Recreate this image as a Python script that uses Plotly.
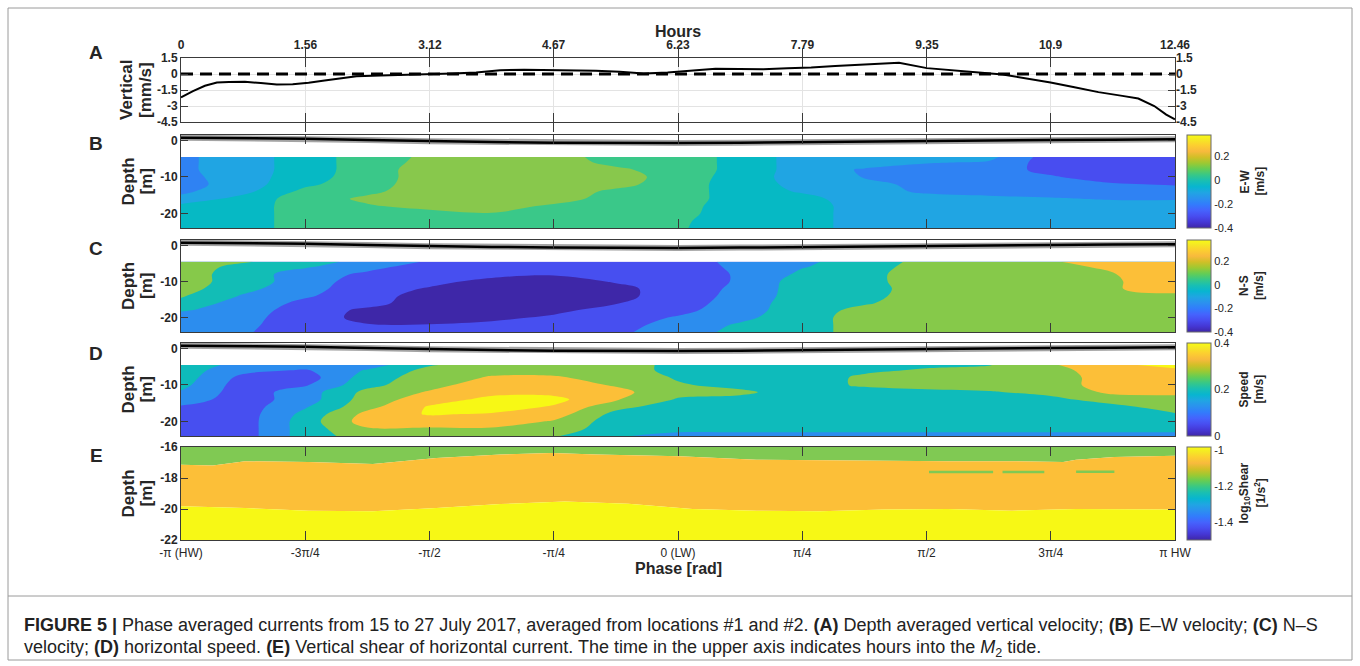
import numpy as np
import plotly.graph_objects as go

W, H = 1360, 666
PI = np.pi
FONT = "Liberation Sans, Arial, sans-serif"
INK = "#262626"

# ---------------- Panel A: depth-averaged vertical velocity ----------------
hours = [0, 0.15, 0.3, 0.45, 0.6, 0.8, 1.0, 1.2, 1.4, 1.6, 1.8, 2.0, 2.2, 2.5, 2.8,
         3.1, 3.4, 3.7, 4.0, 4.3, 4.6, 4.9, 5.2, 5.5, 5.8, 6.1, 6.4, 6.7, 7.0, 7.3,
         7.6, 7.9, 8.2, 8.5, 8.8, 9.0, 9.35, 9.7, 10.0, 10.3, 10.6, 10.9, 11.2, 11.5,
         11.8, 12.0, 12.2, 12.35, 12.46]
vertical_vel = [-2.2, -1.6, -1.1, -0.8, -0.75, -0.72, -0.85, -0.98, -0.95, -0.82, -0.6,
                -0.4, -0.22, -0.15, -0.1, -0.02, 0.05, 0.15, 0.35, 0.4, 0.38, 0.3, 0.3,
                0.2, 0.05, 0.15, 0.3, 0.5, 0.48, 0.45, 0.55, 0.6, 0.75, 0.85, 0.95, 1.05,
                0.55, 0.3, 0.15, -0.05, -0.4, -0.8, -1.25, -1.7, -2.05, -2.3, -3.0, -3.8,
                -4.25]
hour_ticks = [0, 1.56, 3.12, 4.67, 6.23, 7.79, 9.35, 10.9, 12.46]
hour_labels = ["0", "1.56", "3.12", "4.67", "6.23", "7.79", "9.35", "10.9", "12.46"]
vert_ticks = [1.5, 0, -1.5, -3, -4.5]
vert_labels = ["1.5", "0", "-1.5", "-3", "-4.5"]

# ---------------- phase axis ----------------
phase_tick_frac = [-1, -0.75, -0.5, -0.25, 0, 0.25, 0.5, 0.75, 1]
phase_labels = ["-π (HW)", "-3π/4", "-π/2", "-π/4", "0 (LW)", "π/4", "π/2", "3π/4", "π HW"]

# grid of the contour panels (phase in units of pi, depth in m)
grid_phase_frac = [-1, -0.875, -0.75, -0.625, -0.5, -0.375, -0.25, -0.125, 0,
                   0.125, 0.25, 0.375, 0.5, 0.625, 0.75, 0.875, 1]
grid_depth = [-4.5, -6, -8, -10, -12, -14, -16, -18, -20, -22, -24]

# free-surface elevation line drawn in B-D
surf_phase_frac = grid_phase_frac
surf_elev = [0.77, 0.68, 0.49, 0.13, -0.24, -0.42, -0.6, -0.69, -0.69, -0.6, -0.42,
             -0.24, -0.15, 0.04, 0.13, 0.22, 0.31]

# ---------------- Panel B: E-W velocity (m/s) ----------------
ew_vel = [
    [-0.17, -0.1, 0, 0.1, 0.17, 0.2, 0.2, 0.1, 0.1, 0.02, -0.1, -0.1, -0.1, -0.12, -0.3, -0.3, -0.3],
    [-0.17, -0.1, 0, 0.1, 0.18, 0.2, 0.2, 0.12, 0.1, 0.02, -0.1, -0.1, -0.14, -0.16, -0.3, -0.3, -0.3],
    [-0.17, -0.1, 0, 0.1, 0.2, 0.2, 0.2, 0.17, 0.1, 0.02, -0.1, -0.16, -0.2, -0.2, -0.28, -0.3, -0.3],
    [-0.18, -0.1, 0.01, 0.1, 0.2, 0.2, 0.2, 0.2, 0.1, 0.01, -0.1, -0.155, -0.2, -0.2, -0.24, -0.3, -0.3],
    [-0.19, -0.1, 0.03, 0.11, 0.2, 0.2, 0.2, 0.18, 0.1, 0, -0.08, -0.1, -0.2, -0.2, -0.2, -0.24, -0.26],
    [-0.17, -0.08, 0.08, 0.13, 0.2, 0.2, 0.2, 0.13, 0.1, 0, -0.06, -0.1, -0.17, -0.19, -0.2, -0.2, -0.2],
    [-0.12, -0.01, 0.1, 0.17, 0.2, 0.2, 0.2, 0.1, 0.1, 0, -0.02, -0.1, -0.1, -0.12, -0.14, -0.16, -0.16],
    [-0.02, 0, 0.1, 0.14, 0.18, 0.2, 0.13, 0.1, 0.085, 0, 0, -0.1, -0.1, -0.1, -0.1, -0.1, -0.1],
    [0, 0, 0.1, 0.1, 0.12, 0.145, 0.1, 0.1, 0.078, 0, 0, -0.1, -0.1, -0.1, -0.1, -0.1, -0.1],
    [0, 0, 0.1, 0.1, 0.1, 0.1, 0.1, 0.1, 0.065, 0, 0, -0.1, -0.1, -0.1, -0.1, -0.1, -0.1],
    [0, 0, 0.1, 0.1, 0.1, 0.1, 0.1, 0.1, 0.06, 0, 0, -0.1, -0.1, -0.1, -0.1, -0.1, -0.1],
]
ew_colors = ["#484DF0", "#2F82F3", "#20A5E3", "#06B9C4", "#3AC889", "#88C84C"]

# ---------------- Panel C: N-S velocity (m/s) ----------------
ns_vel = [
    [0.1, 0.06, 0, -0.09, -0.16, -0.2, -0.2, -0.2, -0.2, -0.12, -0.07, 0, 0.08, 0.1, 0.14, 0.2, 0.2],
    [0.1, 0.02, -0.04, -0.12, -0.2, -0.2, -0.2, -0.2, -0.2, -0.13, -0.055, 0, 0.1, 0.1, 0.1, 0.18, 0.2],
    [0.1, 0, -0.1, -0.17, -0.2, -0.22, -0.24, -0.2, -0.2, -0.14, -0.03, 0.02, 0.1, 0.1, 0.1, 0.145, 0.2],
    [0.1, 0, -0.1, -0.2, -0.22, -0.28, -0.3, -0.24, -0.2, -0.14, 0, 0.02, 0.1, 0.1, 0.1, 0.14, 0.2],
    [0.09, -0.02, -0.12, -0.2, -0.26, -0.3, -0.3, -0.28, -0.2, -0.13, 0, 0.01, 0.1, 0.1, 0.1, 0.14, 0.2],
    [0.06, -0.06, -0.14, -0.2, -0.3, -0.3, -0.3, -0.28, -0.2, -0.12, 0, 0.02, 0.1, 0.1, 0.1, 0.1, 0.12],
    [0.02, -0.1, -0.17, -0.22, -0.3, -0.3, -0.3, -0.255, -0.2, -0.1, 0, 0.04, 0.1, 0.1, 0.1, 0.1, 0.1],
    [-0.04, -0.1, -0.2, -0.27, -0.3, -0.3, -0.28, -0.2, -0.18, -0.09, 0, 0.08, 0.1, 0.1, 0.1, 0.1, 0.1],
    [-0.1, -0.12, -0.2, -0.28, -0.3, -0.28, -0.23, -0.2, -0.14, -0.07, 0, 0.1, 0.1, 0.1, 0.1, 0.1, 0.1],
    [-0.1, -0.13, -0.2, -0.245, -0.245, -0.22, -0.2, -0.2, -0.1, -0.04, 0, 0.1, 0.1, 0.1, 0.1, 0.1, 0.1],
    [-0.1, -0.14, -0.2, -0.2, -0.2, -0.2, -0.2, -0.17, -0.1, -0.02, 0, 0.1, 0.1, 0.1, 0.1, 0.1, 0.08],
]
ns_colors = ["#3E27A8", "#474FF0", "#2C8DEE", "#12BDB6", "#86C94A", "#FCBF38"]

# ---------------- Panel D: horizontal speed (m/s) ----------------
speed = [
    [0.17, 0.1, 0.1, 0.1, 0.17, 0.2, 0.2, 0.2, 0.16, 0.15, 0.16, 0.165, 0.17, 0.172, 0.22, 0.26, 0.3],
    [0.15, 0.09, 0.07, 0.13, 0.19, 0.21, 0.21, 0.2, 0.16, 0.15, 0.16, 0.17, 0.178, 0.19, 0.21, 0.25, 0.26],
    [0.15, 0.06, 0.05, 0.15, 0.2, 0.23, 0.23, 0.21, 0.17, 0.15, 0.16, 0.18, 0.19, 0.2, 0.2, 0.25, 0.25],
    [0.14, 0.05, 0.07, 0.16, 0.21, 0.25, 0.25, 0.22, 0.18, 0.16, 0.16, 0.18, 0.19, 0.2, 0.2, 0.25, 0.25],
    [0.12, 0.05, 0.1, 0.19, 0.23, 0.26, 0.26, 0.24, 0.19, 0.185, 0.15, 0.16, 0.165, 0.17, 0.19, 0.235, 0.235],
    [0.1, 0.05, 0.1, 0.2, 0.25, 0.29, 0.29, 0.23, 0.17, 0.16, 0.15, 0.15, 0.15, 0.15, 0.16, 0.2, 0.21],
    [0.07, 0.05, 0.12, 0.21, 0.28, 0.3, 0.27, 0.19, 0.15, 0.15, 0.15, 0.15, 0.15, 0.15, 0.15, 0.16, 0.2],
    [0.05, 0.05, 0.14, 0.24, 0.28, 0.27, 0.25, 0.16, 0.15, 0.15, 0.15, 0.15, 0.15, 0.15, 0.15, 0.15, 0.17],
    [0.05, 0.05, 0.15, 0.25, 0.25, 0.25, 0.22, 0.15, 0.15, 0.15, 0.15, 0.15, 0.15, 0.15, 0.15, 0.15, 0.15],
    [0.05, 0.05, 0.15, 0.22, 0.22, 0.22, 0.2, 0.15, 0.14, 0.14, 0.14, 0.14, 0.14, 0.14, 0.14, 0.14, 0.14],
    [0.05, 0.05, 0.15, 0.2, 0.2, 0.2, 0.18, 0.13, 0.11, 0.11, 0.11, 0.11, 0.11, 0.11, 0.11, 0.11, 0.11],
]
speed_colors = ["#474FF0", "#2C8DEE", "#0EBBBB", "#86C94A", "#FCBF38", "#F7F815"]

# ---------------- Panel E: log10 shear layers ----------------
e_top, e_bottom = -16, -22
e_go_phase_frac = [-1, -0.936, -0.871, -0.743, -0.614, -0.486, -0.357, -0.254, -0.164,
                   0.003, 0.158, 0.286, 0.415, 0.543, 0.672, 0.775, 0.801, 0.878, 1]
e_go_depth = [-17.14, -17.2, -16.92, -16.97, -17.1, -16.71, -16.49, -16.39, -16.49,
              -16.6, -16.82, -16.86, -16.88, -16.92, -16.92, -16.97, -16.82, -16.64, -16.56]
e_oy_phase_frac = [-1, -0.871, -0.743, -0.614, -0.486, -0.357, -0.228, -0.1, 0.029,
                   0.158, 0.286, 0.415, 0.543, 0.672, 0.801, 1]
e_oy_depth = [-19.83, -19.94, -20.11, -20.15, -19.94, -19.68, -19.51, -19.66, -20.0,
              -20.11, -20.15, -20.04, -20.0, -20.11, -20.0, -20.04]
e_streak_start = [0.505, 0.653, 0.801]
e_streak_end = [0.634, 0.737, 0.878]
e_streak_depth = [-17.62, -17.62, -17.6]
shear_colors = ["#80C953", "#FCBF38", "#F7F815"]

# ---------------- colour bars ----------------
parula = [[0.0, "#3E26A8"], [0.0635, "#4537D5"], [0.127, "#484DF0"], [0.19, "#4563FD"],
          [0.254, "#327CFC"], [0.317, "#2B91EF"], [0.381, "#20A5E3"], [0.444, "#08B5D0"],
          [0.508, "#19BFB2"], [0.571, "#37C887"], [0.635, "#64CD55"], [0.698, "#9DC932"],
          [0.762, "#D1BF27"], [0.825, "#F8BA3D"], [0.889, "#FCCF30"], [0.952, "#F5E924"],
          [1.0, "#F9FB14"]]
cbar_ranges = [(-0.4, 0.38), (-0.4, 0.38), (0.0, 0.4), (-1.5, -0.985)]
cbar_ticks = [[-0.4, -0.2, 0, 0.2], [-0.4, -0.2, 0, 0.2], [0, 0.2, 0.4], [-1.4, -1.2, -1]]
cbar_labels = [["-0.4", "-0.2", "0", "0.2"], ["-0.4", "-0.2", "0", "0.2"],
               ["0", "0.2", "0.4"], ["-1.4", "-1.2", "-1"]]

# ---------------- layout geometry (pixels) ----------------
X0, X1 = 181, 1175
panel_px = {"A": (58, 122), "B": (135, 228), "C": (240, 332), "D": (343, 436), "E": (447, 540)}


def px(x):
    return x / W


def py(y):
    return 1 - y / H


def band_scale(colors):
    n = len(colors)
    scale = []
    for k, c in enumerate(colors):
        lo = max(0.0, (k - 0.5) / (n - 1))
        hi = min(1.0, (k + 0.5) / (n - 1) - 1e-6) if k < n - 1 else 1.0
        scale.append([lo, c])
        scale.append([hi, c])
    return scale


fig = go.Figure()
gphase = [f * PI for f in grid_phase_frac]

# Panel A traces
fig.add_trace(go.Scatter(x=[hour_ticks[0], hour_ticks[-1]], y=[0, 0], mode="lines",
                         line=dict(color="black", width=3, dash="12px,7px"),
                         xaxis="x", yaxis="y", hoverinfo="skip"))
fig.add_trace(go.Scatter(x=hours, y=vertical_vel, mode="lines",
                         line=dict(color="black", width=2), xaxis="x", yaxis="y"))
fig.add_trace(go.Scatter(x=[0], y=[99], mode="markers", marker=dict(size=1, opacity=0),
                         xaxis="x", yaxis="y6", hoverinfo="skip"))

# Contour panels B, C, D
for k, (z, cols, start, size) in enumerate([
        (ew_vel, ew_colors, -0.25, 0.1),
        (ns_vel, ns_colors, -0.25, 0.1),
        (speed, speed_colors, 0.075, 0.05)]):
    ax = str(k + 2)
    nlev = len(cols) - 1
    fig.add_trace(go.Contour(
        x=gphase, y=grid_depth, z=z, autocontour=False,
        contours=dict(start=start, end=start + (nlev - 1) * size, size=size,
                      coloring="fill", showlines=False),
        line=dict(width=0), colorscale=band_scale(cols), showscale=False,
        xaxis="x" + ax, yaxis="y" + ax, hoverinfo="skip"))
    sx = [f * PI for f in surf_phase_frac]
    fig.add_trace(go.Scatter(x=sx, y=surf_elev, mode="lines",
                             line=dict(color="rgba(90,90,90,0.55)", width=6),
                             xaxis="x" + ax, yaxis="y" + ax, hoverinfo="skip"))
    fig.add_trace(go.Scatter(x=sx, y=surf_elev, mode="lines",
                             line=dict(color="black", width=2.5),
                             xaxis="x" + ax, yaxis="y" + ax, hoverinfo="skip"))

# Panel E layers
fig.add_trace(go.Scatter(x=[-PI, PI], y=[e_top, e_top], mode="lines", line=dict(width=0),
                         xaxis="x5", yaxis="y5", hoverinfo="skip"))
fig.add_trace(go.Scatter(x=[f * PI for f in e_go_phase_frac], y=e_go_depth, mode="lines",
                         line=dict(width=0), fill="tonexty", fillcolor=shear_colors[0],
                         xaxis="x5", yaxis="y5", hoverinfo="skip"))
fig.add_trace(go.Scatter(x=[f * PI for f in e_oy_phase_frac], y=e_oy_depth, mode="lines",
                         line=dict(width=0), fill="tonexty", fillcolor=shear_colors[1],
                         xaxis="x5", yaxis="y5", hoverinfo="skip"))
fig.add_trace(go.Scatter(x=[-PI, PI], y=[e_bottom, e_bottom], mode="lines",
                         line=dict(width=0), fill="tonexty", fillcolor=shear_colors[2],
                         xaxis="x5", yaxis="y5", hoverinfo="skip"))
for s0, s1, d in zip(e_streak_start, e_streak_end, e_streak_depth):
    fig.add_trace(go.Scatter(x=[s0 * PI, s1 * PI], y=[d, d], mode="lines",
                             line=dict(color=shear_colors[0], width=2.5),
                             xaxis="x5", yaxis="y5", hoverinfo="skip"))

# colour bars
for k, key in enumerate(["B", "C", "D", "E"]):
    ax = str(k + 2)
    t, b = panel_px[key]
    cmin, cmax = cbar_ranges[k]
    fig.add_trace(go.Scatter(
        x=[0], y=[99], mode="markers", xaxis="x" + ax, yaxis="y" + ax, hoverinfo="skip",
        marker=dict(size=1, opacity=0, color=[cmin], cmin=cmin, cmax=cmax,
                    colorscale=parula, showscale=True,
                    colorbar=dict(x=px(1187), xanchor="left", xpad=0, ypad=0,
                                  y=py((t + b) / 2), yanchor="middle",
                                  len=(b - t) / H, lenmode="fraction",
                                  thickness=24, thicknessmode="pixels",
                                  outlinewidth=1, outlinecolor="#6a6a6a",
                                  tickvals=cbar_ticks[k], ticktext=cbar_labels[k],
                                  ticks="", tickfont=dict(size=11, color=INK, family=FONT)))))

layout = dict(width=W, height=H, autosize=False,
              margin=dict(l=0, r=0, t=0, b=0, pad=0, autoexpand=False), showlegend=False,
              paper_bgcolor="white", plot_bgcolor="white",
              font=dict(family=FONT, color=INK))

xdom = [px(X0), px(X1)]
axline = dict(showline=True, linecolor="#3a3a3a", linewidth=1, mirror="allticks",
              ticks="inside", tickcolor="#3a3a3a", zeroline=False, automargin=False)

# A axes
layout["xaxis"] = dict(domain=xdom, anchor="y", side="top", range=[0, 12.46],
                       tickvals=hour_ticks, ticktext=hour_labels, ticklen=9,
                       ticklabelstandoff=3,
                       showgrid=True, gridcolor="#e3e3e3",
                       tickfont=dict(size=12, weight="bold"), **axline)
t, b = panel_px["A"]
layout["yaxis"] = dict(domain=[py(b), py(t)], anchor="x", range=[-4.5, 1.5],
                       tickvals=vert_ticks, ticktext=vert_labels, ticklen=7,
                       showgrid=True, gridcolor="#e3e3e3",
                       tickfont=dict(size=12, weight="bold"), **axline)
layout["yaxis6"] = dict(overlaying="y", anchor="x", side="right", range=[-4.5, 1.5],
                        tickvals=vert_ticks, ticktext=vert_labels, ticks="",
                        showgrid=False, zeroline=False, showline=False, automargin=False,
                        tickfont=dict(size=12, weight="bold"))

for k, key in enumerate(["B", "C", "D", "E"]):
    ax = str(k + 2)
    t, b = panel_px[key]
    last = key == "E"
    layout["xaxis" + ax] = dict(domain=xdom, anchor="y" + ax, range=[-PI, PI],
                                tickvals=[f * PI for f in phase_tick_frac],
                                ticktext=phase_labels, showticklabels=last, ticklen=9,
                                ticklabelstandoff=2,
                                showgrid=False, tickfont=dict(size=12), **axline)
    if last:
        yr, yt = [-22, -16], [-16, -18, -20, -22]
    else:
        yr, yt = [-24, 1.5], [0, -10, -20]
    layout["yaxis" + ax] = dict(domain=[py(b), py(t)], anchor="x" + ax, range=yr,
                                tickvals=yt, ticktext=[str(v) for v in yt], ticklen=7,
                                showgrid=False, tickfont=dict(size=12, weight="bold"),
                                **axline)

ann = []


def text(x, y, s, size, bold=True, angle=0, xanchor="center", color=INK):
    ann.append(dict(x=px(x), y=py(y), xref="paper", yref="paper", text=s, showarrow=False,
                    textangle=angle, xanchor=xanchor, yanchor="middle",
                    font=dict(size=size, family=FONT, color=color,
                              weight="bold" if bold else "normal")))


text(678, 31, "Hours", 16)
text(678, 568, "Phase [rad]", 16)
for letter, yy in zip("ABCDE", [52, 143, 248, 353, 455]):
    text(96, yy, letter, 19)
text(127, 90, "Vertical", 17, angle=-90)
text(146, 90, "[mm/s]", 17, angle=-90)
for key in "BCDE":
    t, b = panel_px[key]
    text(128, (t + b) / 2, "Depth", 17, angle=-90)
    text(146, (t + b) / 2, "[m]", 17, angle=-90)
cb_titles = {"B": ("E-W", "[m/s]"), "C": ("N-S", "[m/s]"), "D": ("Speed", "[m/s]"),
             "E": ("log<sub>10</sub>Shear", "[1/s<sup>2</sup>]")}
for key, (l1, l2) in cb_titles.items():
    t, b = panel_px[key]
    text(1244, (t + b) / 2, l1, 12, angle=-90)
    text(1259, (t + b) / 2, l2, 12, angle=-90)

cap1 = ("<b>FIGURE 5 |</b> Phase averaged currents from 15 to 27 July 2017, averaged from "
        "locations #1 and #2. <b>(A)</b> Depth averaged vertical velocity; <b>(B)</b> E–W "
        "velocity; <b>(C)</b> N–S")
cap2 = ("velocity; <b>(D)</b> horizontal speed. <b>(E)</b> Vertical shear of horizontal "
        "current. The time in the upper axis indicates hours into the <i>M</i><sub>2</sub> tide.")
text(22, 625, cap1, 18, bold=False, xanchor="left", color="#222222")
text(22, 648, cap2, 18, bold=False, xanchor="left", color="#222222")
layout["annotations"] = ann

layout["shapes"] = [
    dict(type="rect", xref="paper", yref="paper", x0=px(8), x1=px(1352), y0=py(660), y1=py(8),
         line=dict(color="#9a9a9a", width=1)),
    dict(type="line", xref="paper", yref="paper", x0=px(8), x1=px(1352), y0=py(596), y1=py(596),
         line=dict(color="#9a9a9a", width=1)),
]

fig.update_layout(**layout)
fig.write_html("out.html")
